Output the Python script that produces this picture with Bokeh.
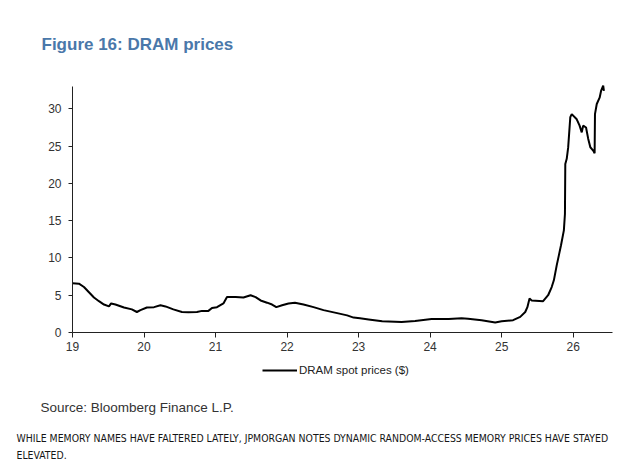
from bokeh.plotting import figure
from bokeh.models import Label, Legend, LegendItem, FixedTicker, Range1d
from bokeh.embed import file_html
from bokeh.resources import INLINE

# DRAM spot price series (x = two-digit year, fractional)
years = [19.00, 19.09, 19.16, 19.23, 19.30, 19.37, 19.44, 19.51, 19.54, 19.60,
         19.72, 19.83, 19.90, 19.95, 20.04, 20.14, 20.23, 20.30, 20.41, 20.53,
         20.62, 20.74, 20.81, 20.90, 20.95, 21.02, 21.11, 21.16, 21.28, 21.39,
         21.49, 21.56, 21.63, 21.72, 21.79, 21.85, 21.93, 22.02, 22.11, 22.23,
         22.37, 22.51, 22.70, 22.84, 22.93, 23.02, 23.14, 23.33, 23.60, 23.79,
         24.02, 24.26, 24.44, 24.53, 24.72, 24.91, 25.00, 25.16, 25.26, 25.33,
         25.36, 25.39, 25.42, 25.58, 25.65, 25.70, 25.73, 25.77, 25.80, 25.83,
         25.87, 25.885, 25.89, 25.91, 25.93, 25.96, 25.98, 26.05, 26.09, 26.12,
         26.14, 26.18, 26.21, 26.24, 26.28, 26.30, 26.305, 26.33, 26.37, 26.39,
         26.42, 26.43]
prices = [6.6, 6.55, 6.1, 5.4, 4.7, 4.2, 3.75, 3.5, 3.9, 3.75,
          3.35, 3.1, 2.75, 3.0, 3.35, 3.4, 3.65, 3.5, 3.1, 2.75,
          2.7, 2.75, 2.9, 2.9, 3.3, 3.4, 3.9, 4.75, 4.75, 4.7,
          5.0, 4.75, 4.3, 4.0, 3.75, 3.4, 3.65, 3.9, 4.0, 3.75,
          3.4, 3.0, 2.6, 2.3, 2.0, 1.9, 1.75, 1.5, 1.4, 1.55,
          1.8, 1.8, 1.9, 1.85, 1.65, 1.35, 1.5, 1.65, 2.1, 2.75,
          3.4, 4.55, 4.3, 4.2, 5.0, 6.1, 7.0, 9.0, 10.35, 11.7,
          13.7, 15.9, 22.6, 23.3, 24.8, 28.9, 29.3, 28.6, 27.75, 26.85,
          27.75, 27.5, 26.0, 24.85, 24.4, 24.05, 29.3, 30.65, 31.5, 32.4,
          33.1, 32.4]

x_ticks = [19, 20, 21, 22, 23, 24, 25, 26]
y_ticks = [0, 5, 10, 15, 20, 25, 30]
X_MIN, X_MAX = 19, 26.55
Y_MIN, Y_MAX = 0, 33

# The plotting frame covers the whole page; the axes sit at fixed data
# positions so that the title, notes and legend can share the same canvas.
W, H = 641, 474
AX_LEFT, AX_RIGHT, AX_TOP, AX_BOTTOM = 72, 612, 86, 332   # page pixels of the axes box
kx = (AX_RIGHT - AX_LEFT) / (X_MAX - X_MIN)
ky = (AX_BOTTOM - AX_TOP) / (Y_MAX - Y_MIN)
x_range = Range1d(X_MIN - AX_LEFT / kx, X_MAX + (W - AX_RIGHT) / kx)
y_range = Range1d(Y_MIN - (H - AX_BOTTOM) / ky, Y_MAX + AX_TOP / ky)

p = figure(frame_width=W, frame_height=H, output_backend="svg", toolbar_location=None,
           x_range=x_range, y_range=y_range,
           min_border=0)
p.outline_line_color = None
p.grid.visible = False
p.background_fill_color = "white"
p.border_fill_color = "white"

tick_font = "Liberation Sans"
p.xaxis[0].fixed_location = Y_MIN
p.xaxis[0].bounds = (X_MIN, X_MAX)
p.yaxis[0].fixed_location = X_MIN
p.yaxis[0].bounds = (Y_MIN, Y_MAX)
for ax, ticks in ((p.xaxis[0], x_ticks), (p.yaxis[0], y_ticks)):
    ax.ticker = FixedTicker(ticks=ticks)
    ax.minor_tick_line_color = None
    ax.major_tick_in = 0
    ax.axis_line_color = "#222222"
    ax.major_tick_line_color = "#222222"
    ax.major_label_text_font = tick_font
    ax.major_label_text_font_size = "12px"
    ax.major_label_text_color = "#333333"
p.yaxis[0].major_tick_out = 4
p.yaxis[0].major_label_standoff = 7
p.xaxis[0].major_tick_out = 5
p.xaxis[0].major_label_standoff = 4

line = p.line(years, prices, line_color="black", line_width=2)

legend = Legend(items=[LegendItem(label="DRAM spot prices ($)", renderers=[line])],
                location=(262, H - 370 - 8), orientation="horizontal",
                label_text_font=tick_font, label_text_font_size="11.5px",
                label_text_color="#222222", glyph_width=35, glyph_height=16,
                label_height=16, label_standoff=2, padding=0, margin=0, spacing=0,
                border_line_color=None, background_fill_alpha=0)
p.add_layout(legend, "center")


def page_label(x, y, text, **kw):
    """Place a text by its page-pixel position (left edge, vertical centre)."""
    return Label(x=x, y=H - y, x_units="screen", y_units="screen",
                 text=text, text_baseline="middle", **kw)


title = page_label(41, 44, "Figure 16: DRAM prices", text_font="Liberation Sans",
                   text_font_size="17px", text_font_style="bold", text_color="#4a78aa")
source = page_label(40, 407, "Source: Bloomberg Finance L.P.", text_font="Liberation Sans",
                    text_font_size="13.5px", text_color="#333333")
cap_font = "DejaVu Sans Condensed"
cap1 = page_label(16, 437, "WHILE MEMORY NAMES HAVE FALTERED LATELY, JPMORGAN NOTES DYNAMIC "
                           "RANDOM-ACCESS MEMORY PRICES HAVE STAYED",
                  text_font=cap_font, text_font_size="10.4px", text_color="#151515")
cap2 = page_label(16, 454, "ELEVATED.", text_font=cap_font, text_font_size="10.4px",
                  text_color="#151515")
for lab in (title, source, cap1, cap2):
    p.add_layout(lab)

open("out.html", "w").write(file_html(p, INLINE))
